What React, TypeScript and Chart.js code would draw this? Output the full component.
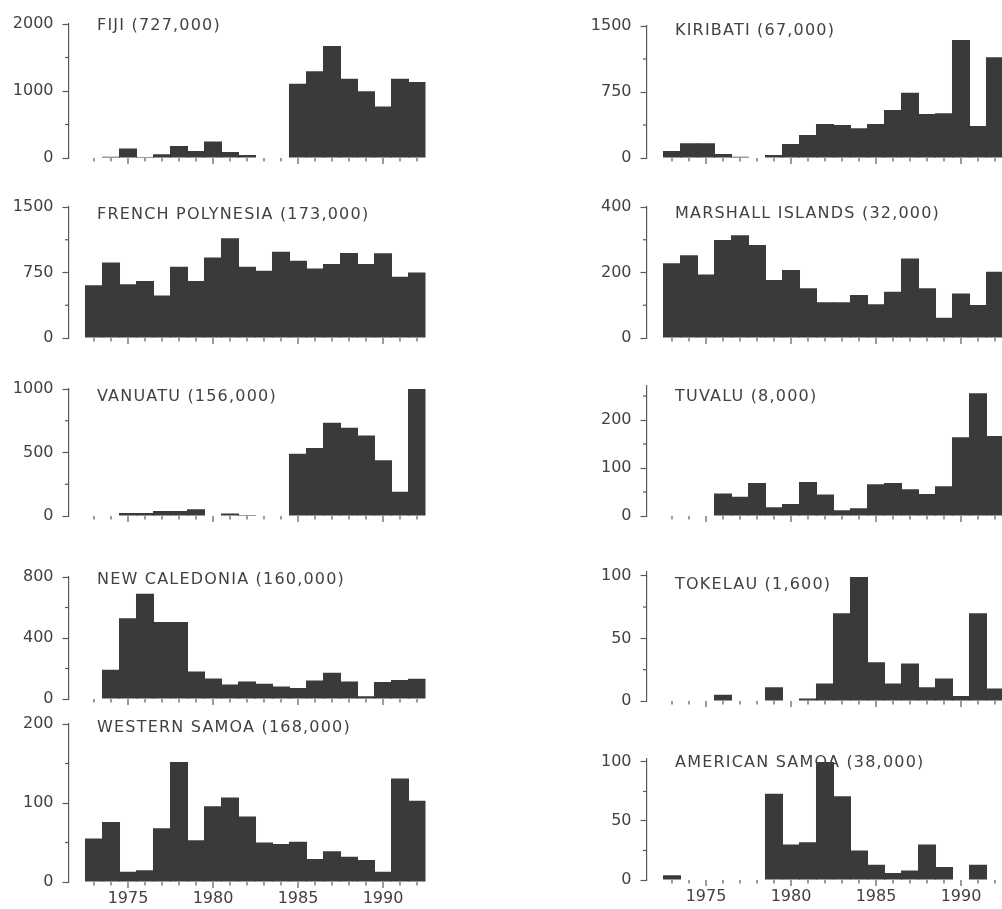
import React, { useEffect, useRef } from "react";
import { Chart, registerables } from "chart.js";

Chart.register(...registerables);

// ---------------- DATA ----------------
const years = [
  1973, 1974, 1975, 1976, 1977, 1978, 1979, 1980, 1981, 1982,
  1983, 1984, 1985, 1986, 1987, 1988, 1989, 1990, 1991, 1992,
];
const majorYears = [1975, 1980, 1985, 1990];

const fiji = [8, 20, 140, 15, 55, 180, 105, 245, 90, 45, 0, 0, 1110, 1296, 1673, 1181, 995, 769, 1181, 1135];
const frenchPolynesia = [604, 865, 615, 654, 488, 815, 654, 923, 1142, 815, 769, 988, 885, 796, 846, 973, 846, 969, 700, 750];
const vanuatu = [0, 0, 24, 24, 40, 40, 53, 0, 20, 8, 0, 0, 491, 536, 735, 695, 634, 438, 191, 1000];
const newCaledonia = [0, 192, 530, 690, 505, 505, 180, 135, 95, 115, 100, 82, 72, 122, 172, 115, 18, 112, 125, 132];
const westernSamoa = [55, 76, 13, 15, 68, 152, 53, 96, 107, 83, 50, 48, 51, 29, 39, 32, 28, 13, 131, 103];
const kiribati = [80, 167, 167, 45, 15, 5, 34, 159, 261, 386, 375, 337, 386, 545, 742, 500, 508, 1341, 364, 1144];
const marshallIslands = [228, 253, 194, 299, 314, 284, 177, 208, 152, 109, 109, 131, 103, 141, 243, 152, 62, 136, 101, 202];
const tuvalu = [0, 0, 0, 47, 40, 69, 18, 25, 71, 45, 12, 16, 66, 69, 56, 46, 62, 164, 256, 167];
const tokelau = [0, 0, 0, 5, 0, 0, 11, 0, 2, 14, 70, 99, 31, 14, 30, 11, 18, 4, 70, 10];
const americanSamoa = [4, 0, 0, 0, 0, 0, 73, 30, 32, 100, 71, 25, 13, 6, 8, 30, 11, 0, 13, 0];

const titles = [
  "FIJI (727,000)",
  "FRENCH POLYNESIA (173,000)",
  "VANUATU (156,000)",
  "NEW CALEDONIA (160,000)",
  "WESTERN SAMOA (168,000)",
  "KIRIBATI (67,000)",
  "MARSHALL ISLANDS (32,000)",
  "TUVALU (8,000)",
  "TOKELAU (1,600)",
  "AMERICAN SAMOA (38,000)",
];

const seriesList = [
  fiji, frenchPolynesia, vanuatu, newCaledonia, westernSamoa,
  kiribati, marshallIslands, tuvalu, tokelau, americanSamoa,
];

const yTickValues = [
  [0, 1000, 2000],
  [0, 750, 1500],
  [0, 500, 1000],
  [0, 400, 800],
  [0, 100, 200],
  [0, 750, 1500],
  [0, 200, 400],
  [0, 100, 200],
  [0, 50, 100],
  [0, 50, 100],
];
const yAxisMax = [2000, 1500, 1000, 800, 200, 1500, 400, 271, 103, 102.5];

// ---------------- LAYOUT / STYLE ----------------
const BAR = "#3a3a3a";
const AXIS = "#595959";
const TEXT = "#424242";
const FONT_FAMILY = "DejaVu Sans";

const COLS = [
  { canvasLeft: 0, width: 440, axisX: 68.5, areaRight: 425.5 },
  { canvasLeft: 560, width: 452, axisX: 646.5, areaRight: 1003.5 },
];

const PANELS = [
  { col: 0, zero: 158, top: 24, titleY: 26, xLabels: false },
  { col: 0, zero: 338, top: 207, titleY: 215, xLabels: false },
  { col: 0, zero: 516, top: 389, titleY: 397, xLabels: false },
  { col: 0, zero: 699, top: 577, titleY: 580, xLabels: false },
  { col: 0, zero: 882, top: 724, titleY: 728, xLabels: true },
  { col: 1, zero: 158, top: 26, titleY: 31, xLabels: false },
  { col: 1, zero: 338, top: 207, titleY: 214, xLabels: false },
  { col: 1, zero: 516, top: 386, titleY: 397, xLabels: false },
  { col: 1, zero: 701, top: 572, titleY: 585, xLabels: false },
  { col: 1, zero: 880, top: 759, titleY: 763, xLabels: true },
];

const PAD_TOP = 20;
const PAD_BOTTOM = 20;
const X_AXIS_H = 30;
const TITLE_DX = 28.5;

const decorPlugin = {
  id: "decor",
  afterDatasetsDraw(chart: any, _args: any, opts: any) {
    const { ctx, chartArea } = chart;
    const xs = chart.scales.x;
    const ys = chart.scales.y;
    const y0 = ys.getPixelForValue(0);
    ctx.save();
    ctx.strokeStyle = AXIS;
    ctx.lineWidth = 1.2;
    for (const yr of years) {
      const px = xs.getPixelForValue(yr);
      const len = majorYears.includes(yr) ? 6 : 3.5;
      ctx.beginPath();
      ctx.moveTo(px, y0);
      ctx.lineTo(px, y0 + len);
      ctx.stroke();
    }
    for (const v of opts.minor as number[]) {
      const py = ys.getPixelForValue(v);
      ctx.beginPath();
      ctx.moveTo(chartArea.left, py);
      ctx.lineTo(chartArea.left - 3.5, py);
      ctx.stroke();
    }
    ctx.fillStyle = TEXT;
    ctx.font = `16px "${FONT_FAMILY}"`;
    try {
      (ctx as any).letterSpacing = "1.2px";
    } catch (e) {}
    ctx.textBaseline = "middle";
    ctx.textAlign = "left";
    ctx.fillText(opts.title, chartArea.left + TITLE_DX, opts.titleY);
    ctx.restore();
  },
};

function Panel({ index }: { index: number }) {
  const ref = useRef<HTMLCanvasElement>(null);
  const p = PANELS[index];
  const c = COLS[p.col];
  const xH = p.xLabels ? X_AXIS_H : 0;
  const canvasTop = p.top - PAD_TOP;
  const height = PAD_TOP + (p.zero - p.top) + xH + PAD_BOTTOM;
  const yWidth = c.axisX - c.canvasLeft;
  const padRight = c.canvasLeft + c.width - c.areaRight;

  useEffect(() => {
    const values = seriesList[index];
    const ticks = yTickValues[index];
    const max = yAxisMax[index];
    const minor: number[] = [];
    for (let i = 1; i < ticks.length; i++) minor.push((ticks[i - 1] + ticks[i]) / 2);
    const step = ticks[1] - ticks[0];
    if (max >= ticks[ticks.length - 1] + step / 2) minor.push(ticks[ticks.length - 1] + step / 2);

    const font = { family: FONT_FAMILY, size: 16 };
    const chart = new Chart(ref.current as HTMLCanvasElement, {
      type: "bar",
      data: {
        datasets: [
          {
            data: years.map((yr, i) => ({ x: yr, y: values[i] > 0 ? values[i] : null })) as any,
            backgroundColor: BAR,
            borderWidth: 0,
            inflateAmount: 0,
            barPercentage: 1.06,
            categoryPercentage: 1,
          },
        ],
      },
      options: {
        animation: false,
        responsive: false,
        events: [],
        layout: { padding: { top: PAD_TOP, bottom: PAD_BOTTOM, left: 0, right: padRight } },
        plugins: {
          legend: { display: false },
          tooltip: { enabled: false },
          decor: { title: titles[index], titleY: p.titleY - canvasTop, minor },
        } as any,
        scales: {
          x: {
            type: "linear",
            min: 1971.5,
            max: 1992.5,
            offset: false,
            afterBuildTicks: (s: any) => {
              s.ticks = years.map((v) => ({ value: v }));
            },
            afterFit: (s: any) => {
              s.height = xH;
            },
            grid: { display: false, drawTicks: false, offset: false },
            border: { display: false },
            ticks: {
              display: p.xLabels,
              autoSkip: false,
              maxRotation: 0,
              minRotation: 0,
              padding: 7,
              color: TEXT,
              font,
              callback: (v: any) => (majorYears.includes(Number(v)) ? String(v) : ""),
            },
          },
          y: {
            type: "linear",
            min: 0,
            max,
            afterBuildTicks: (s: any) => {
              s.ticks = ticks.map((v) => ({ value: v }));
            },
            afterFit: (s: any) => {
              s.width = yWidth;
            },
            grid: {
              drawOnChartArea: false,
              drawTicks: true,
              tickLength: 6,
              tickColor: AXIS,
              tickWidth: 1.2,
            },
            border: { display: true, color: AXIS, width: 1.2 },
            ticks: {
              padding: 9,
              color: TEXT,
              font,
              callback: (v: any) => String(v),
            },
          },
        },
      } as any,
      plugins: [decorPlugin as any],
    });
    return () => chart.destroy();
  }, [index]);

  return (
    <canvas
      ref={ref}
      width={c.width}
      height={height}
      style={{
        position: "absolute",
        left: c.canvasLeft,
        top: canvasTop,
        width: c.width,
        height,
      }}
    />
  );
}

export default function App() {
  return (
    <div
      style={{
        position: "fixed",
        left: 0,
        top: 0,
        width: 1002,
        height: 909,
        overflow: "hidden",
        background: "#ffffff",
      }}
    >
      {PANELS.map((_, i) => (
        <Panel key={i} index={i} />
      ))}
    </div>
  );
}
